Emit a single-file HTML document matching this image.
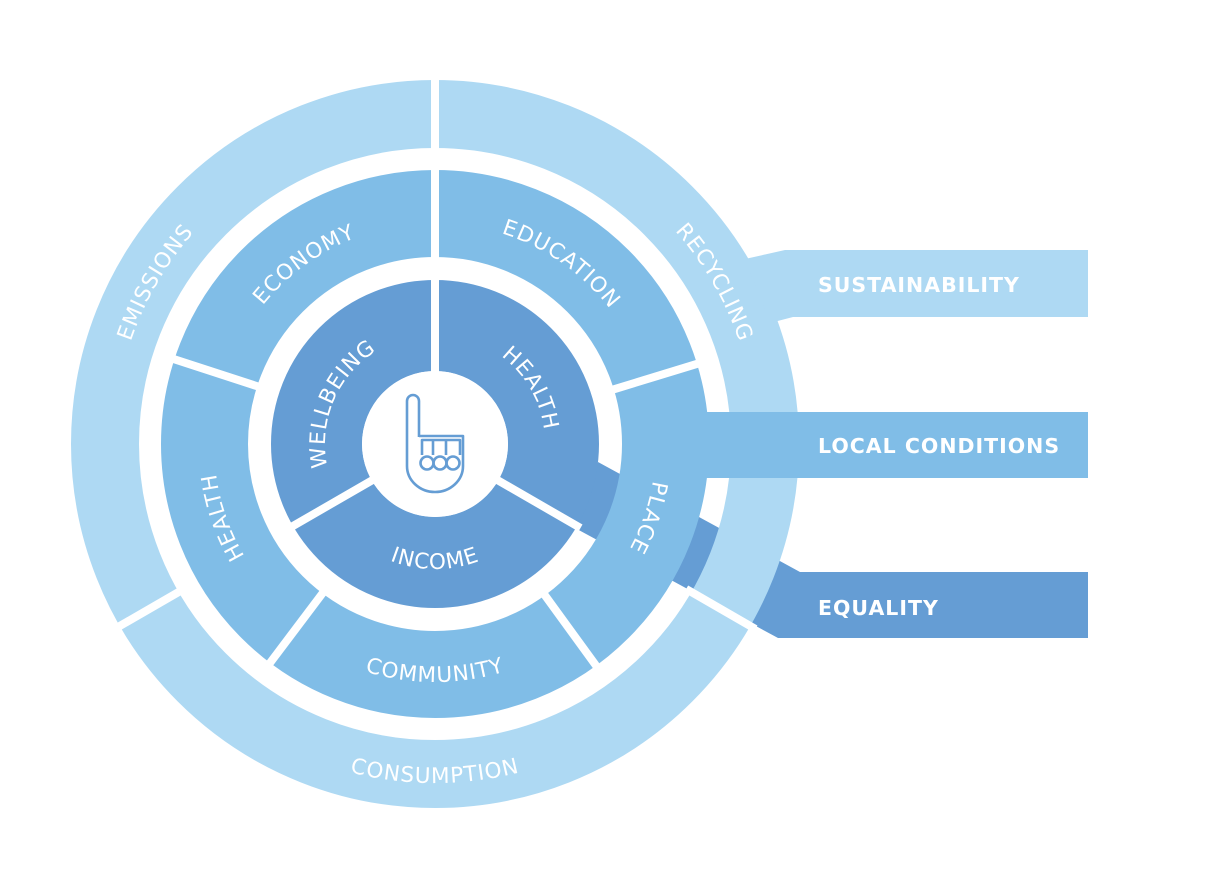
<!DOCTYPE html>
<html><head><meta charset="utf-8"><style>
html,body{margin:0;padding:0;background:#fff;}
svg{display:block;}
.t{font-family:"DejaVu Sans","Liberation Sans",sans-serif;font-size:21.5px;fill:#fff;letter-spacing:1px;}
.b{font-family:"DejaVu Sans","Liberation Sans",sans-serif;font-size:20.5px;font-weight:bold;fill:#fff;letter-spacing:1px;}
</style></head><body>
<svg id="s" width="1218" height="877" viewBox="0 0 1218 877" xmlns="http://www.w3.org/2000/svg">
<polygon points="598,462 800,572 1088,572 1088,638 778,638 575,528" fill="#659dd4"/>
<circle cx="435" cy="444" r="330" fill="none" stroke="#aed9f3" stroke-width="68"/>
<polygon points="745,259 785,250 1088,250 1088,317 793,317 770,323" fill="#aed9f3"/>
<circle cx="435" cy="444" r="230.5" fill="none" stroke="#80bde7" stroke-width="87"/>
<rect x="700" y="412" width="388" height="66" fill="#80bde7"/>
<circle cx="435" cy="444" r="118.5" fill="none" stroke="#659dd4" stroke-width="91"/>
<circle cx="435" cy="444" r="73" fill="#fff"/>
<g id="gaps" stroke="#fff" stroke-width="8"></g>
<g id="txt"></g>
<text class="b" x="818" y="292">SUSTAINABILITY</text>
<text class="b" x="818" y="453">LOCAL CONDITIONS</text>
<text class="b" x="818" y="615">EQUALITY</text>
<g fill="none" stroke="#659dd4" stroke-width="2.6" stroke-linejoin="round">
<path d="M407,437 L407,401 A6,6 0 0 1 419,401 L419,437"/>
<path d="M407,437 L407,466 A28,26 0 0 0 463,466 L463,436 L419,436"/>
<path d="M422,455 L422,440 L460,440 L460,455 M433,455 L433,440 M446,455 L446,440"/>
<circle cx="427" cy="463" r="6.5"/><circle cx="440" cy="463" r="6.5"/><circle cx="453" cy="463" r="6.5"/>
</g>
</svg>
<script>
var cx=435,cy=444,NS="http://www.w3.org/2000/svg";
function P(r,a){a=a*Math.PI/180;return [cx+r*Math.cos(a),cy+r*Math.sin(a)];}
var g=document.getElementById('gaps');
function gap(a,r1,r2){var p=P(r1,a),q=P(r2,a);var l=document.createElementNS(NS,'line');
l.setAttribute('x1',p[0]);l.setAttribute('y1',p[1]);l.setAttribute('x2',q[0]);l.setAttribute('y2',q[1]);g.appendChild(l);}
[270,150,30].forEach(function(a){gap(a,290,370);});
[270,343,54,127,198].forEach(function(a){gap(a,180,280);});
[270,30,150].forEach(function(a){gap(a,60,168);});
var tg=document.getElementById('txt'),n=0;
function lab(s,r,a,cw){var d,p,q;
 if(cw){p=P(r,a-80);q=P(r,a+80);d='M'+p[0]+' '+p[1]+' A'+r+' '+r+' 0 0 1 '+q[0]+' '+q[1];}
 else{p=P(r,a+80);q=P(r,a-80);d='M'+p[0]+' '+p[1]+' A'+r+' '+r+' 0 0 0 '+q[0]+' '+q[1];}
 var id='p'+(n++);var pa=document.createElementNS(NS,'path');pa.setAttribute('id',id);pa.setAttribute('d',d);pa.setAttribute('fill','none');tg.appendChild(pa);
 var t=document.createElementNS(NS,'text');t.setAttribute('class','t');t.setAttribute('text-anchor','middle');
 var tp=document.createElementNS(NS,'textPath');tp.setAttribute('href','#'+id);tp.setAttributeNS('http://www.w3.org/1999/xlink','xlink:href','#'+id);tp.setAttribute('startOffset','50%');tp.textContent=s;t.appendChild(tp);tg.appendChild(t);}
lab('EMISSIONS',321,210,true);
lab('RECYCLING',321,330,true);
lab('CONSUMPTION',339,90,false);
lab('ECONOMY',221,234,true);
lab('EDUCATION',221,305,true);
lab('HEALTH',221,161,true);
lab('PLACE',221,19,true);
lab('COMMUNITY',238,90,false);
lab('WELLBEING',110,203,true);
lab('HEALTH',110,330,true);
lab('INCOME',125,90,false);
</script>
</body></html>
